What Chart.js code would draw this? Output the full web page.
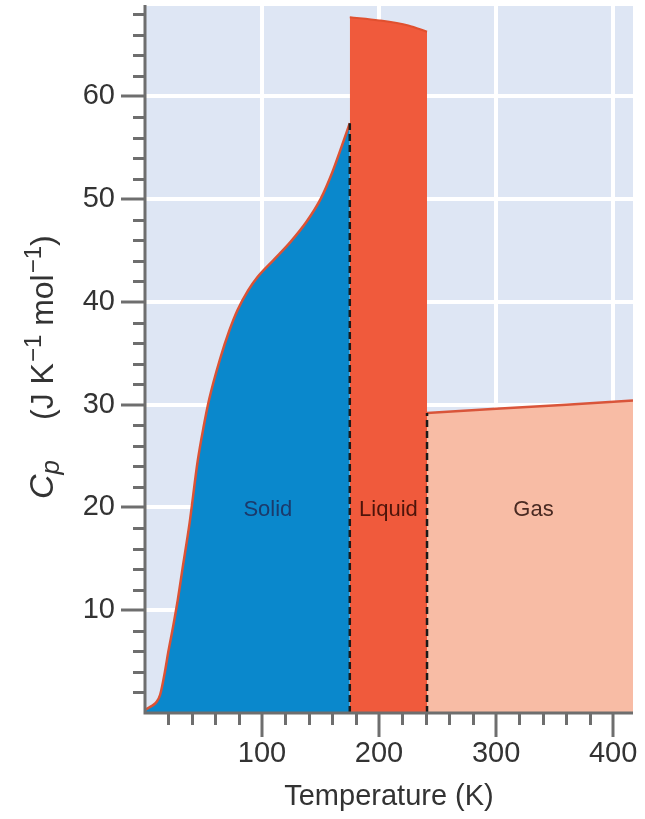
<!DOCTYPE html>
<html>
<head>
<meta charset="utf-8">
<script src="https://cdn.jsdelivr.net/npm/chart.js@4"></script>
<style>
  html, body { margin: 0; padding: 0; background: #fff; }
  #wrap { width: 645px; height: 819px; }
</style>
</head>
<body>
<div id="wrap"><canvas id="cpChart" width="645" height="819"></canvas></div>
<script>
// heat capacity vs temperature
const solidT  = [0, 3, 6, 10, 13, 17, 20, 24, 28, 32, 38, 45, 50, 55, 64, 72, 79, 88, 96, 110, 124, 138, 150, 160, 167, 175];
const solidCp = [0.3, 0.5, 0.7, 1.1, 1.8, 4.0, 6.0, 8.4, 11.0, 14.0, 18.4, 24.5, 27.8, 30.6, 34.4, 37.2, 39.2, 41.1, 42.4, 44.1, 45.8, 47.8, 50.0, 52.6, 54.8, 57.4];
const liquidT  = [175, 200, 225, 241];
const liquidCp = [67.7, 67.4, 66.9, 66.3];
const gasT  = [241, 300, 360, 417];
const gasCp = [29.2, 29.6, 30.0, 30.4];
const meltT = 175;
const boilT = 241;
const phaseNames = ['Solid', 'Liquid', 'Gas'];
const phaseLabelT = [105, 208, 332];
const phaseLabelCp = 19.8;
const xMax = 417;
const yMax = 68.8;

const toXY = (xs, ys) => xs.map((x, i) => ({x: x, y: ys[i]}));

const axisGrey = '#6e6e6e';
const tickFont = {family: '"Liberation Sans", Arial, sans-serif', size: 29};

// background, axis lines, minor ticks, region labels and y title
const decor = {
  id: 'decor',
  beforeDraw(chart) {
    const {ctx, chartArea: a} = chart;
    ctx.save();
    ctx.fillStyle = '#dee6f4';
    ctx.fillRect(a.left, a.top, a.right - a.left, a.bottom - a.top);
    ctx.restore();
  },
  afterDatasetsDraw(chart) {
    const {ctx, chartArea: a, scales} = chart;
    ctx.save();
    ctx.strokeStyle = axisGrey;
    ctx.lineWidth = 3;
    ctx.beginPath();
    ctx.moveTo(a.left, a.top - 1);
    ctx.lineTo(a.left, a.bottom);
    ctx.lineTo(a.right, a.bottom);
    ctx.stroke();

    scales.x.ticks.forEach(t => {
      if (t.value === 0 || t.value % 100 === 0) return;
      const px = Math.round(scales.x.getPixelForValue(t.value)) + 0.5;
      ctx.beginPath();
      ctx.moveTo(px, a.bottom);
      ctx.lineTo(px, a.bottom + 12);
      ctx.stroke();
    });
    scales.y.ticks.forEach(t => {
      if (t.value === 0 || t.value % 10 === 0) return;
      const py = Math.round(scales.y.getPixelForValue(t.value)) + 0.5;
      ctx.beginPath();
      ctx.moveTo(a.left, py);
      ctx.lineTo(a.left - 12, py);
      ctx.stroke();
    });

    const labelColors = ['#1b3a6b', '#4d140a', '#4a2a22'];
    ctx.font = '22px "Liberation Sans", Arial, sans-serif';
    ctx.textAlign = 'center';
    ctx.textBaseline = 'middle';
    phaseNames.forEach((name, i) => {
      ctx.fillStyle = labelColors[i];
      ctx.fillText(name, scales.x.getPixelForValue(phaseLabelT[i]), scales.y.getPixelForValue(phaseLabelCp));
    });

    // y axis title: C_p (J K^-1 mol^-1)
    ctx.translate(53, 499);
    ctx.rotate(-Math.PI / 2);
    ctx.fillStyle = '#333';
    ctx.textAlign = 'left';
    ctx.textBaseline = 'alphabetic';
    const big = '32px "Liberation Sans", Arial, sans-serif';
    const small = '24px "Liberation Sans", Arial, sans-serif';
    const parts = [
      ['C', 'italic 34px "Liberation Sans", Arial, sans-serif', 0, 0],
      ['p', 'italic 26px "Liberation Sans", Arial, sans-serif', 6, 0],
      ['(J K', big, 0, 40],
      ['\u22121', small, -12, 1],
      [' mol', big, 0, 0],
      ['\u22121', small, -12, 1],
      [')', big, 0, 0]
    ];
    let x = 0;
    parts.forEach(([txt, font, dy, gap]) => {
      x += gap;
      ctx.font = font;
      ctx.fillText(txt, x, dy);
      x += ctx.measureText(txt).width;
    });
    ctx.restore();
  }
};

const ctx = document.getElementById('cpChart').getContext('2d');
new Chart(ctx, {
  type: 'line',
  data: {
    datasets: [
      {
        data: toXY([meltT, meltT], [0, solidCp[solidCp.length - 1]]),
        borderColor: '#1a1a1a', borderWidth: 2.5, borderDash: [7, 4],
        pointRadius: 0, fill: false
      },
      {
        data: toXY([boilT, boilT], [0, gasCp[0]]),
        borderColor: '#1a1a1a', borderWidth: 2.5, borderDash: [7, 4],
        pointRadius: 0, fill: false
      },
      {
        label: 'Solid',
        data: toXY(solidT, solidCp),
        borderColor: '#dc5234', borderWidth: 2.5,
        backgroundColor: '#0a88cc',
        fill: 'origin', pointRadius: 0,
        cubicInterpolationMode: 'monotone'
      },
      {
        label: 'Liquid',
        data: toXY(liquidT, liquidCp),
        borderColor: '#e0502f', borderWidth: 2,
        backgroundColor: '#f05a3c',
        fill: 'origin', pointRadius: 0,
        cubicInterpolationMode: 'monotone'
      },
      {
        label: 'Gas',
        data: toXY(gasT, gasCp),
        borderColor: '#d9553a', borderWidth: 2.5,
        backgroundColor: '#f8bca5',
        fill: 'origin', pointRadius: 0
      }
    ]
  },
  options: {
    responsive: false,
    animation: false,
    layout: {padding: {top: 6, right: 12, left: 0, bottom: 0}},
    plugins: {legend: {display: false}, tooltip: {enabled: false}},
    scales: {
      x: {
        type: 'linear',
        min: 0, max: xMax,
        afterFit: s => { s.height = 106; s.paddingLeft = 0; s.paddingRight = 0; },
        border: {display: false},
        grid: {
          color: c => (c.tick && c.tick.value > 0 && c.tick.value % 100 === 0) ? '#ffffff' : 'rgba(0,0,0,0)',
          lineWidth: 4,
          tickLength: 24,
          tickWidth: 3,
          tickColor: c => (c.tick && c.tick.value > 0 && c.tick.value % 100 === 0) ? axisGrey : 'rgba(0,0,0,0)'
        },
        ticks: {
          stepSize: 20, autoSkip: false, maxRotation: 0, includeBounds: false,
          padding: 0, color: '#333', font: tickFont,
          callback: v => (v > 0 && v % 100 === 0) ? String(v) : ''
        },
        title: {
          display: true, text: 'Temperature (K)', color: '#333',
          font: tickFont, padding: {top: 0, bottom: 5}
        }
      },
      y: {
        min: 0, max: yMax,
        afterFit: s => { s.width = 145; s.paddingTop = 0; s.paddingBottom = 0; },
        border: {display: false},
        grid: {
          color: c => (c.tick && c.tick.value > 0 && c.tick.value % 10 === 0) ? '#ffffff' : 'rgba(0,0,0,0)',
          lineWidth: 4,
          tickLength: 24,
          tickWidth: 3,
          tickColor: c => (c.tick && c.tick.value > 0 && c.tick.value % 10 === 0) ? axisGrey : 'rgba(0,0,0,0)'
        },
        ticks: {
          stepSize: 2, autoSkip: false, includeBounds: false,
          padding: 6, color: '#333', font: tickFont,
          callback: v => (v > 0 && v % 10 === 0) ? String(v) : ''
        }
      }
    }
  },
  plugins: [decor]
});
</script>
</body>
</html>
